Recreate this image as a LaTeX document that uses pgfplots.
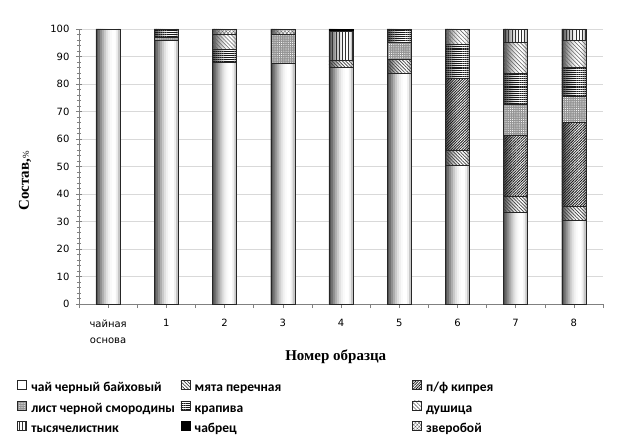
\documentclass[border=0pt]{standalone}
\usepackage{pgfplots}
\pgfplotsset{compat=1.18}
\usepackage{pgfplotstable}
\usetikzlibrary{patterns.meta}
\usepackage{fontspec}
\setmainfont{Liberation Serif}
\newfontfamily\tickfont{DejaVu Sans}
\newfontfamily\legfont{Carlito}

\pgfplotsset{
  legsq/.style={legend image code/.code={\draw[##1, line width=0.4pt] (0pt,-0.5pt) rectangle (9pt,8.5pt);}},
  seg/.style={draw=black!85, line width=0.55pt, legsq},
  geom/.style={at={(79pt,141pt)}, anchor=south west,
    scale only axis, width=524pt, height=275pt,
    xmin=-0.5, xmax=8.5, ymin=0, ymax=100},
  strip/.style={draw=none, bar width=2.4pt, fill=#1},
}

\pgfplotstableread{
x tea myata kiprey smorod krapiva dushica tysyach chabrec zverob
0 100 0 0 0 0 0 0 0 0
1 96 0 0 1 3 0 0 0 0
2 88 0 0 0 4.5 5.5 0 0 2
3 87.5 0 0 10.5 0 0 0 0 2
4 86 2.5 0 0 0 0 10.5 1 0
5 84 5 0 6 5 0 0 0 0
6 50.5 5.5 26 0 12.5 5.5 0 0 0
7 33.5 5.5 22.5 11 11.5 11 5 0 0
8 30.5 5 30.5 9.5 10.5 10 4 0 0
}\data

\pgfplotstableread{
x h
0 100
1 100
2 100
3 100
4 100
5 100
6 100
7 100
8 100
}\total

\begin{document}
\begin{tikzpicture}
\useasboundingbox (0,0) rectangle (619pt,445pt);
% background axis: grid, axis lines, ticks, labels, cylinder shading
\begin{axis}[
  geom, ybar,
  axis x line*=bottom, axis y line*=left,
  axis line style={draw=black!50, line width=0.6pt},
  ytick={0,10,...,100}, minor y tick num=4,
  ymajorgrids, major grid style={draw=black!15, line width=0.6pt},
  tick align=center,
  major tick length=6pt, minor tick length=4pt,
  every tick/.append style={draw=black!50, line width=0.5pt},
  xtick={0,...,8},
  xticklabels={{чайная\\основа},1,2,3,4,5,6,7,8},
  major x tick style={draw=none},
  minor xtick={-0.5,0,...,8.5},
  minor x tick style={yshift=-2pt},
  xticklabel style={font=\tickfont\fontsize{10}{16}\selectfont, align=center, yshift=-9pt},
  yticklabel style={font=\tickfont\fontsize{10}{12}\selectfont, xshift=-3pt},
  /pgf/number format/assume math mode=true,
  ylabel={Состав,{\fontsize{9}{9}\selectfont\mdseries\%}},
  ylabel style={font=\bfseries\fontsize{15}{15}\selectfont, at={(axis description cs:-0.103,0.447)}, anchor=center},
  xlabel={Номер образца},
  xlabel style={font=\bfseries\fontsize{15}{15}\selectfont, at={(axis description cs:0.49,-0.19)}, anchor=center},
]
\addplot[strip=black!68, bar shift=-11pt] table[x=x,y=h]{\total};
\addplot[strip=black!56, bar shift=-9pt] table[x=x,y=h]{\total};
\addplot[strip=black!44, bar shift=-7pt] table[x=x,y=h]{\total};
\addplot[strip=black!32, bar shift=-5pt] table[x=x,y=h]{\total};
\addplot[strip=black!21, bar shift=-3pt] table[x=x,y=h]{\total};
\addplot[strip=black!12, bar shift=-1pt] table[x=x,y=h]{\total};
\addplot[strip=black!6, bar shift=1pt] table[x=x,y=h]{\total};
\addplot[strip=black!2, bar shift=3pt] table[x=x,y=h]{\total};
\addplot[strip=white, bar shift=5pt] table[x=x,y=h]{\total};
\addplot[strip=white, bar shift=7pt] table[x=x,y=h]{\total};
\addplot[strip=black!6, bar shift=9pt] table[x=x,y=h]{\total};
\addplot[strip=black!22, bar shift=11pt] table[x=x,y=h]{\total};
\end{axis}
% foreground axis: stacked patterned segments and legend
\begin{axis}[
  geom, hide axis,
  ybar stacked, bar width=24pt,
  legend columns=3,
  legend cell align=left,
  legend style={at={(axis description cs:-0.118,-0.276)}, anchor=north west,
    draw=none, fill=none, inner sep=0pt,
    font=\legfont\bfseries\fontsize{13.5}{13.5}\selectfont,
    row sep=4.2pt,
    /tikz/every even column/.style={column sep=0pt},
    /tikz/every odd column/.style={column sep=3pt},
    nodes={inner sep=1.5pt, text height=9pt, text depth=3pt}},
]
\addplot[seg] table[x=x,y=tea]{\data};
\addlegendentry{\makebox[148pt][l]{чай черный байховый}}
\addplot[seg, pattern={Lines[angle=-45,distance=2.4pt,line width=0.7pt]}, pattern color=black!75] table[x=x,y=myata]{\data};
\addlegendentry{\makebox[216pt][l]{мята перечная}}
\addplot[seg, pattern={Lines[angle=45,distance=1.9pt,line width=0.8pt]}, pattern color=black!90] table[x=x,y=kiprey]{\data};
\addlegendentry{п/ф кипрея}
\addplot[draw=black!85, line width=0.55pt, fill=black!42, postaction={pattern={Dots[distance=2.2pt,radius=0.55pt]}, pattern color=white}, legsq] table[x=x,y=smorod]{\data};
\addlegendentry{\makebox[148pt][l]{лист черной смородины}}
\addplot[seg, pattern={Lines[angle=0,distance=1.9pt,line width=0.8pt]}, pattern color=black!90] table[x=x,y=krapiva]{\data};
\addlegendentry{\makebox[216pt][l]{крапива}}
\addplot[seg, pattern={Lines[angle=-45,distance=2.8pt,line width=0.55pt]}, pattern color=black!60] table[x=x,y=dushica]{\data};
\addlegendentry{душица}
\addplot[seg, pattern={Lines[angle=90,distance=3.2pt,line width=1pt]}, pattern color=black!80] table[x=x,y=tysyach]{\data};
\addlegendentry{\makebox[148pt][l]{тысячелистник}}
\addplot[draw=black, line width=0.55pt, fill=black, legsq] table[x=x,y=chabrec]{\data};
\addlegendentry{\makebox[216pt][l]{чабрец}}
\addplot[seg, pattern={Hatch[angle=45,distance=2.6pt,line width=0.4pt]}, pattern color=black!60] table[x=x,y=zverob]{\data};
\addlegendentry{зверобой}
\end{axis}
\end{tikzpicture}
\end{document}
